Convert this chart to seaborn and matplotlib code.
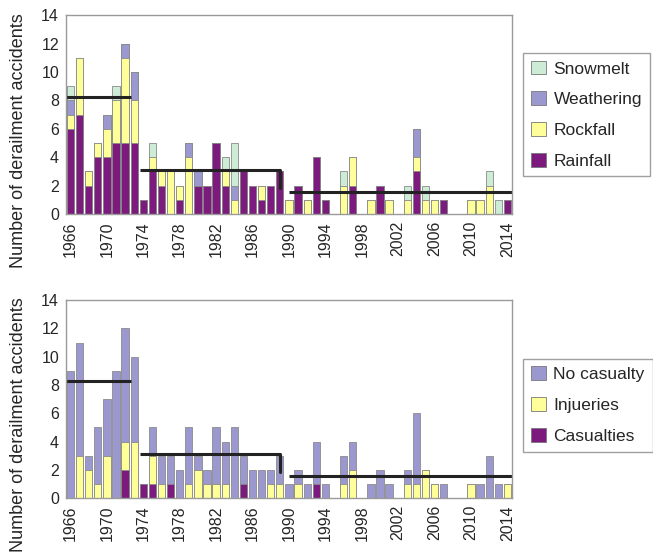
import matplotlib
matplotlib.use("Agg")
import matplotlib.pyplot as plt
import numpy as np
import pandas as pd
import seaborn as sns
from matplotlib.patches import Patch

years = list(range(1966, 2015))

# Cause of derailment (top panel)
rainfall = [6, 7, 2, 4, 4, 5, 5, 5, 1, 3, 2, 0, 1, 0, 2, 2,
            5, 2, 0, 3, 2, 1, 2, 3, 0, 2, 0, 4, 1, 0, 0, 2,
            0, 0, 2, 0, 0, 0, 3, 0, 0, 1, 0, 0, 0, 0, 0, 0, 1]
rockfall = [1, 4, 1, 1, 2, 3, 6, 3, 0, 1, 1, 3, 1, 4, 0, 0,
            0, 1, 1, 0, 0, 1, 0, 0, 1, 0, 1, 0, 0, 0, 2, 2,
            0, 1, 0, 1, 0, 1, 1, 1, 1, 0, 0, 0, 1, 1, 2, 0, 0]
weathering = [1, 0, 0, 0, 1, 0, 1, 2, 0, 0, 0, 0, 0, 1, 1, 0,
              0, 0, 1, 0, 0, 0, 0, 0, 0, 0, 0, 0, 0, 0, 0, 0,
              0, 0, 0, 0, 0, 0, 2, 0, 0, 0, 0, 0, 0, 0, 0, 0, 0]
snowmelt = [1, 0, 0, 0, 0, 1, 0, 0, 0, 1, 0, 0, 0, 0, 0, 0,
            0, 1, 3, 0, 0, 0, 0, 0, 0, 0, 0, 0, 0, 0, 1, 0,
            0, 0, 0, 0, 0, 1, 0, 1, 0, 0, 0, 0, 0, 0, 1, 1, 0]

# Severity of derailment (bottom panel)
casualties = [0, 0, 0, 0, 0, 0, 2, 0, 1, 1, 0, 1, 0, 0, 0, 0,
              0, 0, 0, 1, 0, 0, 0, 0, 0, 0, 0, 1, 0, 0, 0, 0,
              0, 0, 0, 0, 0, 0, 0, 0, 0, 0, 0, 0, 0, 0, 0, 0, 0]
injuries = [0, 3, 2, 1, 3, 0, 2, 4, 0, 2, 1, 0, 0, 1, 2, 1,
            1, 1, 0, 0, 0, 0, 1, 1, 0, 1, 0, 0, 0, 0, 1, 2,
            0, 0, 0, 0, 0, 1, 1, 2, 1, 0, 0, 0, 1, 0, 0, 0, 1]
no_casualty = [9, 8, 1, 4, 4, 9, 8, 6, 0, 2, 2, 2, 2, 4, 1, 1,
               4, 3, 5, 2, 2, 2, 1, 2, 1, 1, 1, 3, 1, 0, 2, 2,
               0, 1, 2, 1, 0, 1, 5, 0, 0, 1, 0, 0, 0, 1, 3, 1, 0]

# Periods over which the mean annual count is drawn
eras = [(1966, 1973), (1974, 1989), (1990, 2014)]
tick_years = list(range(1966, 2015, 4))

top_names = ["Rainfall", "Rockfall", "Weathering", "Snowmelt"]
top_colors = ["#7d1a7d", "#ffff99", "#9b98d0", "#ccecd6"]
bot_names = ["Casualties", "Injueries", "No casualty"]
bot_colors = ["#7d1a7d", "#ffff99", "#9b98d0"]

sns.set_theme(style="white")
plt.rcParams["font.family"] = ["Liberation Sans", "DejaVu Sans"]

fig = plt.figure(figsize=(6.53, 5.59), dpi=100)
ax1 = fig.add_axes([0.101, 0.617, 0.683, 0.356])
ax2 = fig.add_axes([0.101, 0.109, 0.683, 0.354])


def stacked(ax, series, names, colors):
    df = pd.DataFrame({"year": years})
    cum = np.zeros(len(years))
    cols = []
    for name, vals in zip(names, series):
        cum = cum + np.array(vals)
        df[name] = cum.copy()
        cols.append(name)
    # tallest cumulative layer first, lower layers painted over it
    for name, color in reversed(list(zip(cols, colors))):
        sns.barplot(data=df, x="year", y=name, order=years, color=color,
                    width=0.8, edgecolor="#8a8a8a", linewidth=0.6,
                    errorbar=None, saturation=1, ax=ax)
    return df[cols[-1]].to_numpy()


def era_lines(ax, total):
    means = []
    for a, b in eras:
        i0, i1 = years.index(a), years.index(b)
        means.append(total[i0:i1 + 1].mean())
    spans = [(-0.5, 6.6), (7.6, 23.0), (24.0, 48.5)]
    for k, ((x0, x1), m) in enumerate(zip(spans, means)):
        ax.plot([x0, x1], [m, m], color="#222222", lw=2.2, solid_capstyle="butt")
        if k == 1:
            ax.plot([x1, x1], [m, means[2] + 0.25], color="#222222", lw=2.2)


def style(ax):
    ax.set_xlim(-0.5, len(years) - 0.5)
    ax.set_ylim(0, 14)
    ax.set_yticks(range(0, 15, 2))
    ax.set_xticks([years.index(y) for y in tick_years])
    ax.set_xticklabels([str(y) for y in tick_years], rotation=90, fontsize=11.5)
    ax.tick_params(axis="y", labelsize=11.5, length=3, color="#888888", pad=2)
    ax.tick_params(axis="x", length=3, color="#888888", pad=2)
    ax.set_xlabel("")
    ax.set_ylabel("Number of derailment accidents", fontsize=13)
    ax.yaxis.set_label_coords(-0.088, 0.37)
    for s in ax.spines.values():
        s.set_color("#9a9a9a")
        s.set_linewidth(1.0)


def legend(ax, names, colors, ypos):
    handles = [Patch(facecolor=c, edgecolor="#777777", linewidth=0.6, label=n)
               for n, c in zip(names[::-1], colors[::-1])]
    ax.legend(handles=handles, loc="center left", bbox_to_anchor=(1.025, ypos),
              frameon=True, fancybox=False, edgecolor="#888888", fontsize=12.5,
              handlelength=0.85, handleheight=0.85, handletextpad=0.45,
              labelspacing=0.85, borderpad=0.45, borderaxespad=0)


t1 = stacked(ax1, [rainfall, rockfall, weathering, snowmelt], top_names, top_colors)
era_lines(ax1, t1)
style(ax1)
legend(ax1, top_names, top_colors, 0.50)

t2 = stacked(ax2, [casualties, injuries, no_casualty], bot_names, bot_colors)
era_lines(ax2, t2)
style(ax2)
legend(ax2, bot_names, bot_colors, 0.47)

fig.savefig("out.png", dpi=100)
